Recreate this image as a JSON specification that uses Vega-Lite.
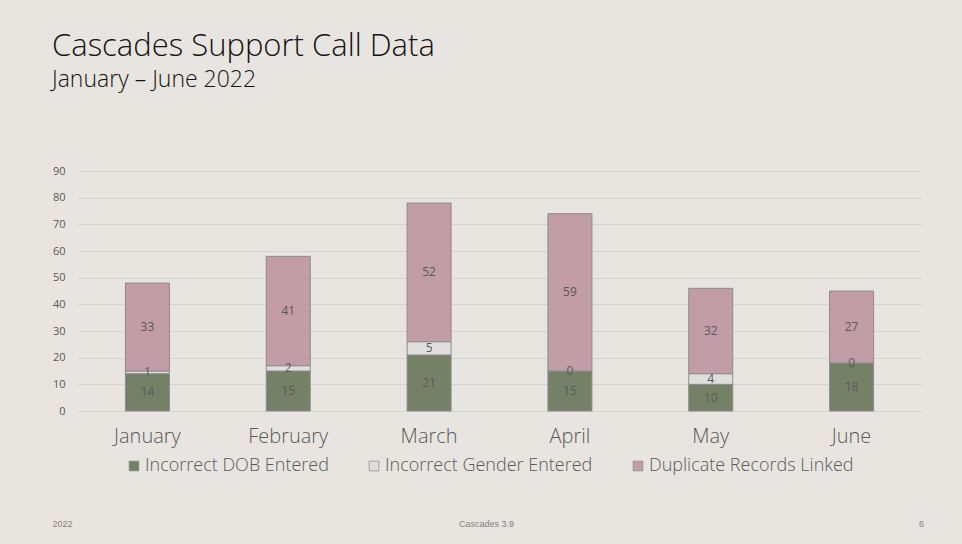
{
  "$schema": "https://vega.github.io/schema/vega-lite/v6.json",
  "autosize": {"type": "none"},
  "width": 845,
  "height": 240,
  "padding": {"left": 77, "top": 171, "right": 40, "bottom": 133},
  "background": "#e8e5e0",
  "title": {
    "text": "Cascades Support Call Data",
    "subtitle": "January – June 2022",
    "anchor": "start",
    "frame": "group",
    "dx": -25,
    "dy": -68,
    "font": "Open Sans",
    "fontSize": 31,
    "fontWeight": 300,
    "color": "#141414",
    "subtitleFont": "Open Sans",
    "subtitleFontSize": 23,
    "subtitleFontWeight": 300,
    "subtitleColor": "#141414",
    "subtitlePadding": 6
  },
  "data": {
    "values": [
      {"month": "January", "series": "Incorrect DOB Entered", "k": 1, "value": 14},
      {"month": "January", "series": "Incorrect Gender Entered", "k": 2, "value": 1},
      {"month": "January", "series": "Duplicate Records Linked", "k": 3, "value": 33},
      {"month": "February", "series": "Incorrect DOB Entered", "k": 1, "value": 15},
      {"month": "February", "series": "Incorrect Gender Entered", "k": 2, "value": 2},
      {"month": "February", "series": "Duplicate Records Linked", "k": 3, "value": 41},
      {"month": "March", "series": "Incorrect DOB Entered", "k": 1, "value": 21},
      {"month": "March", "series": "Incorrect Gender Entered", "k": 2, "value": 5},
      {"month": "March", "series": "Duplicate Records Linked", "k": 3, "value": 52},
      {"month": "April", "series": "Incorrect DOB Entered", "k": 1, "value": 15},
      {"month": "April", "series": "Incorrect Gender Entered", "k": 2, "value": 0},
      {"month": "April", "series": "Duplicate Records Linked", "k": 3, "value": 59},
      {"month": "May", "series": "Incorrect DOB Entered", "k": 1, "value": 10},
      {"month": "May", "series": "Incorrect Gender Entered", "k": 2, "value": 4},
      {"month": "May", "series": "Duplicate Records Linked", "k": 3, "value": 32},
      {"month": "June", "series": "Incorrect DOB Entered", "k": 1, "value": 18},
      {"month": "June", "series": "Incorrect Gender Entered", "k": 2, "value": 0},
      {"month": "June", "series": "Duplicate Records Linked", "k": 3, "value": 27}
    ]
  },
  "encoding": {
    "x": {
      "field": "month",
      "type": "nominal",
      "sort": ["January", "February", "March", "April", "May", "June"],
      "scale": {"paddingInner": 0.6875, "paddingOuter": 0.34375},
      "axis": {
        "labelAngle": 0,
        "labelFont": "Open Sans",
        "labelFontSize": 20,
        "labelFontWeight": 300,
        "labelColor": "#595959",
        "labelPadding": 15,
        "ticks": false,
        "domainColor": "#d6d3cf",
        "title": "Cascades 3.9",
        "titleFont": "Liberation Sans Narrow, Liberation Sans",
        "titleFontSize": 9,
        "titleFontWeight": "normal",
        "titleColor": "#7f7f7f",
        "titleX": 409,
        "titleY": 112,
        "titleAlign": "center",
        "titleBaseline": "middle"
      }
    },
    "order": {"field": "k", "type": "quantitative"}
  },
  "layer": [
    {
      "mark": {"type": "bar", "stroke": "#8c8c8c", "strokeWidth": 1},
      "encoding": {
        "y": {
          "field": "value",
          "type": "quantitative",
          "stack": "zero",
          "scale": {"domain": [0, 90], "nice": false},
          "axis": {
            "values": [0, 10, 20, 30, 40, 50, 60, 70, 80, 90],
            "labelFont": "Open Sans",
            "labelFontSize": 11,
            "labelColor": "#595959",
            "labelPadding": 12,
            "ticks": false,
            "domain": false,
            "gridColor": "#d6d3cf",
            "gridWidth": 1,
            "title": "2022",
            "titleAngle": 0,
            "titleFont": "Liberation Sans Narrow, Liberation Sans",
            "titleFontSize": 9,
            "titleFontWeight": "normal",
            "titleColor": "#7f7f7f",
            "titleX": -25,
            "titleY": 352,
            "titleAlign": "left",
            "titleBaseline": "middle"
          }
        },
        "color": {
          "field": "series",
          "type": "nominal",
          "scale": {
            "domain": ["Incorrect DOB Entered", "Incorrect Gender Entered", "Duplicate Records Linked"],
            "range": ["#748166", "#dfdedd", "#c29ca6"]
          },
          "legend": {
            "title": null,
            "orient": "none",
            "direction": "horizontal",
            "legendX": 48,
            "legendY": 286,
            "symbolType": "square",
            "symbolSize": 95,
            "symbolStrokeColor": "#8c8c8c",
            "symbolStrokeWidth": 0.75,
            "labelFont": "Open Sans",
            "labelFontSize": 18,
            "labelFontWeight": 300,
            "labelColor": "#595959",
            "labelOffset": 2,
            "labelLimit": 400,
            "columnPadding": 36
          }
        }
      }
    },
    {
      "mark": {"type": "text", "font": "Open Sans", "fontSize": 12, "color": "#595959", "baseline": "middle"},
      "encoding": {
        "y": {
          "field": "value",
          "type": "quantitative",
          "stack": "zero",
          "bandPosition": 0.5,
          "axis": {
            "orient": "right",
            "labels": false,
            "ticks": false,
            "domain": false,
            "grid": false,
            "title": "6",
            "titleAngle": 0,
            "titleFont": "Liberation Sans Narrow, Liberation Sans",
            "titleFontSize": 9,
            "titleFontWeight": "normal",
            "titleColor": "#7f7f7f",
            "titleX": -1,
            "titleY": 352,
            "titleAlign": "center",
            "titleBaseline": "middle"
          }
        },
        "detail": {"field": "series"},
        "text": {"field": "value", "type": "quantitative"}
      }
    }
  ],
  "resolve": {"axis": {"y": "independent"}},
  "config": {"view": {"stroke": null}}
}
